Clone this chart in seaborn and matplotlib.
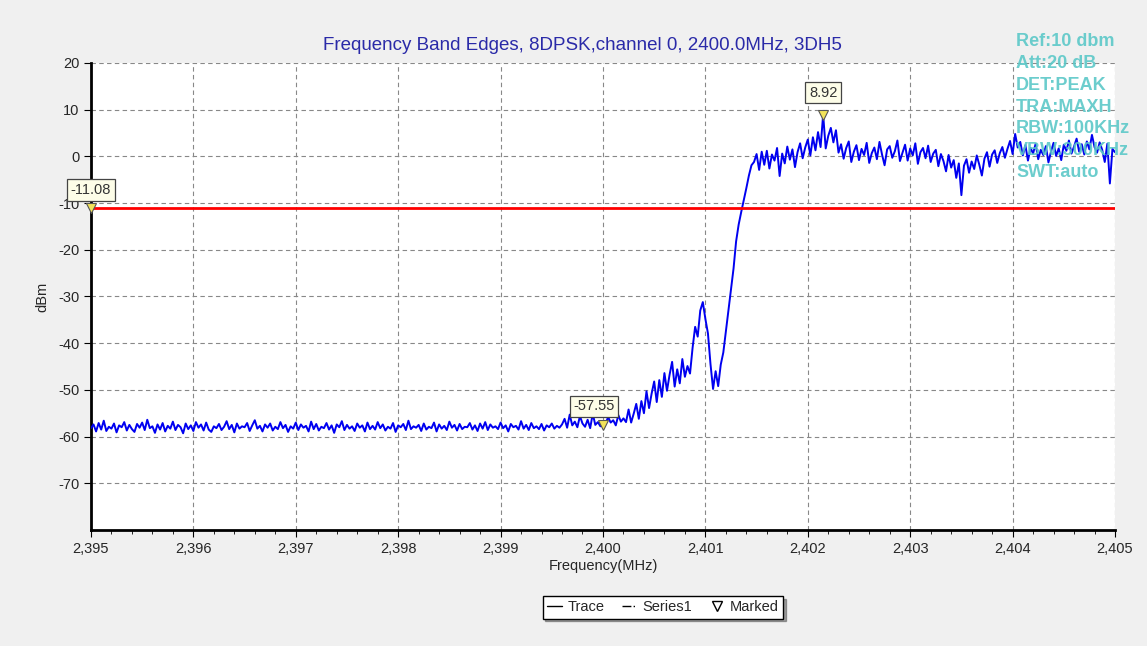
import numpy as np
import pandas as pd
import matplotlib
matplotlib.use("Agg")
import matplotlib.pyplot as plt
from matplotlib.lines import Line2D
from matplotlib.ticker import FuncFormatter, MultipleLocator
import seaborn as sns

# sweep range (MHz) and trace readings (dBm), 0.025 MHz per sample
f_start, f_stop = 2395.0, 2405.0

noise_floor = [
    -58.2, -57.4, -58.9, -57.1, -58.5, -56.6, -58.8, -57.9, -58.3, -57.2,
    -59.1, -57.6, -58.0, -56.9, -58.7, -57.5, -58.4, -59.0, -57.3, -58.1,
    -57.0, -58.6, -56.4, -58.2, -57.8, -59.2, -57.4, -58.5, -57.1, -58.9,
    -57.7, -58.3, -56.8, -58.6, -57.5, -58.0, -59.3, -57.2, -58.4, -57.6,
    -58.8, -56.9, -58.1, -57.4, -58.7, -57.0, -58.5, -59.0, -57.8, -58.2,
    -57.3, -58.6, -57.9, -56.7, -58.4, -57.5, -59.1, -57.2, -58.3, -57.8,
    -58.0, -57.1, -58.8, -57.6, -56.5, -58.3, -57.7, -58.9, -57.4, -58.1,
    -57.2, -58.7, -57.9, -58.4, -56.9, -58.2, -57.5, -59.0, -57.8, -58.3,
    -57.0, -58.6, -57.4, -58.1, -57.7, -58.9, -56.8, -58.4, -57.3, -58.7,
    -57.9, -58.2, -57.1, -58.5, -57.6, -59.2, -57.4, -58.0, -56.7, -58.6,
    -57.5, -58.3, -57.8, -58.8, -57.2, -58.1, -57.6, -58.9, -57.0, -58.4,
    -57.7, -58.5, -56.9, -58.2, -57.4, -58.7, -57.9, -58.3, -57.1, -59.0,
    -57.6, -58.0, -57.3, -58.6, -56.6, -58.4, -57.8, -58.1, -57.5, -58.8,
    -57.2, -58.5, -57.9, -58.2, -57.0, -58.9, -57.4, -58.3, -57.7, -58.6,
    -56.8, -58.1, -57.5, -58.7, -57.3, -58.4, -57.9, -58.0, -57.1, -58.5,
    -57.6, -58.8, -57.2, -58.3, -56.9, -58.6, -57.4, -58.1, -57.8, -58.4,
    -57.0, -58.2, -57.6, -58.9, -57.3, -58.0, -57.7, -58.5, -56.7, -58.3,
    -57.5, -58.6, -57.1, -58.2, -57.8, -58.4, -57.3, -58.7, -57.6, -58.0,
    -57.2, -58.3, -57.7, -58.1,
]
band_edge = [
    -57.4, -56.2, -58.1, -55.3, -57.6, -56.8, -58.0, -55.6, -57.2, -57.9,
    -56.4, -58.2, -55.1, -57.5, -56.9, -57.8, -57.55, -57.3, -55.8, -57.0,
    -56.5, -57.6, -55.4, -56.8, -56.1,
]
skirt = [
    -56.9, -54.2, -57.0, -55.1, -53.0, -56.2, -52.4, -55.0, -50.3, -53.9,
    -50.8, -48.2, -52.6, -47.9, -51.5, -46.4, -50.2, -46.8, -44.0, -49.3,
    -45.6, -48.6, -43.4, -47.2, -44.9, -46.5,
]
bump = [-41.0, -36.5, -38.6, -33.0, -31.2, -34.8, -37.9, -44.5, -49.8]
rise = [
    -46.0, -49.2, -44.6, -42.0, -37.5, -33.1, -28.4, -24.0, -18.2, -14.6,
    -11.9, -9.4, -6.8, -4.1, -1.9,
]
in_band = [
    -1.2, 0.5, -2.9, 1.0,
    -1.8, 1.2, -2.6, 0.4, -0.9, 1.8, -4.2, 0.6, -1.5, 2.1,
    -0.7, 1.5, -2.3, 0.9, 2.8, -0.4, 1.9, 3.6, 0.2, 4.1,
    1.3, 5.2, 2.0, 8.92, 1.7, 4.4, 6.1, 3.0, 5.6, 0.8,
    2.6, -0.5, 1.8, 3.2, -1.2, 1.0, 2.4, -0.8, 1.6, 0.3,
    2.9, -1.4, 0.7, 1.9, -0.6, 3.1, 0.4, -1.9, 1.5, 2.2,
    -0.3, 1.1, 3.4, -1.0, 0.8, 2.5, -0.9, 1.7, 0.2, 2.8,
    -1.6, 0.9, 1.8, -0.4, 2.3, -1.2, 0.6, 1.4, -2.1, 0.5,
    -1.0, -3.2, 0.3, -2.4, -0.8, -4.6, -1.5, -8.3, -2.0, -0.6,
    -3.5, -1.1, -2.7, 0.2, -1.8, -4.1, -0.5, 0.9, -2.2, 0.4,
    1.3, -1.4, 0.7, 2.0, -0.3, 1.6, 3.3, 0.5, 4.8, 1.9,
    3.1, 0.2, 2.4, -0.9, 1.8, 0.6, 2.7, -0.6, 1.4, 0.3,
    2.2, -1.3, 1.0, 2.9, 0.1, 1.7, -0.8, 2.5, 1.2, 3.4,
    0.6, 2.1, 3.8, 1.0, 2.6, 0.4, 3.2, 1.5, 4.6, 2.0,
    0.8, 3.0, 1.4, -1.2, 2.7, -5.8, 1.6, 0.9,
]
limit_dbm = -11.08
marked_freq = 2400.0

title = "Frequency Band Edges, 8DPSK,channel 0, 2400.0MHz, 3DH5"
info_lines = ["Ref:10 dbm", "Att:20 dB", "DET:PEAK", "TRA:MAXH",
              "RBW:100KHz", "VBW:300KHz", "SWT:auto"]
y_ticks = [-70, -60, -50, -40, -30, -20, -10, 0, 10, 20]

trace = noise_floor + band_edge + skirt + bump + rise + in_band
freq = np.linspace(f_start, f_stop, len(trace))
df = pd.DataFrame({"freq": freq, "level": trace})
limit_df = pd.DataFrame({"freq": [f_start, f_stop], "level": [limit_dbm, limit_dbm]})

sns.set_style("white")
plt.rcParams["font.family"] = ["Liberation Sans", "DejaVu Sans"]
plt.rcParams["axes.unicode_minus"] = False

fig = plt.figure(figsize=(11.47, 6.46), dpi=100, facecolor="#f0f0f0")
ax = fig.add_axes([0.0793, 0.1796, 0.8928, 0.7229])
ax.set_facecolor("white")

sns.lineplot(data=df, x="freq", y="level", color="#0000f0", lw=1.4,
             estimator=None, ax=ax, zorder=3)
sns.lineplot(data=limit_df, x="freq", y="level", color="#ff0000", lw=2.0,
             estimator=None, ax=ax, zorder=4)

# marker points: limit at start, fixed frequency, peak
i_mark = int(np.argmin(np.abs(freq - marked_freq)))
i_peak = int(np.argmax(df["level"]))
marks = [
    (f_start, limit_dbm, (0, 13)),
    (freq[i_mark], df["level"][i_mark], (-6.5, 13.5)),
    (freq[i_peak], df["level"][i_peak], (0, 16)),
]
for mx, my, off in marks:
    ax.plot(mx, my, marker="v", ms=7, mfc="#f2e35a", mec="#555555", mew=0.8,
            zorder=6, clip_on=False)
    ax.annotate(f"{my:.2f}", (mx, my), xytext=off, textcoords="offset points",
                ha="center", va="center", fontsize=10.5, color="#333333",
                bbox=dict(boxstyle="square,pad=0.25", fc="#fdfde8", ec="#444444", lw=0.9),
                zorder=7, annotation_clip=False)

ax.set_xlim(f_start, f_stop)
ax.set_ylim(-80, 20)
ax.set_yticks(y_ticks)
ax.xaxis.set_major_locator(MultipleLocator(1))
ax.xaxis.set_minor_locator(MultipleLocator(0.2))
ax.xaxis.set_major_formatter(FuncFormatter(lambda v, p: f"{v:,.0f}"))
ax.grid(True, which="major", color="#888888", lw=0.8, ls=(0, (4, 3)))
ax.tick_params(axis="both", which="major", labelsize=10.5, length=5,
               direction="out", bottom=True, left=True, color="black")
ax.tick_params(axis="x", which="minor", length=3, bottom=True, color="black")
for side in ["top", "right"]:
    ax.spines[side].set_visible(False)
for side in ["left", "bottom"]:
    ax.spines[side].set_color("black")
    ax.spines[side].set_linewidth(2)
ax.set_xlabel("Frequency(MHz)", fontsize=10.5, labelpad=2)
ax.set_ylabel("dBm", fontsize=10.5, labelpad=6)

fig.text(0.508, 0.930, title, ha="center", va="center", fontsize=13.5, color="#2a2aa8")
for k, line in enumerate(info_lines):
    fig.text(0.886, 1 - (42 + 21.7 * k) / 646, line, ha="left", va="center",
             fontsize=13, fontweight="bold", color="#5cc8c8", alpha=0.9)

handles = [
    Line2D([], [], color="black", lw=1),
    Line2D([], [], color="black", lw=1, ls="-."),
    Line2D([], [], color="black", ls="none", marker="v", mfc="none", ms=7),
]
fig.legend(handles, ["Trace", "Series1", "Marked"], loc="center",
           bbox_to_anchor=(0.578, 0.06), ncol=3, fontsize=10.5, frameon=True,
           fancybox=False, shadow=True, edgecolor="black", framealpha=1,
           handlelength=1.0, handletextpad=0.4, columnspacing=1.2,
           borderpad=0.3)

fig.savefig("out.png", dpi=100, facecolor=fig.get_facecolor())
